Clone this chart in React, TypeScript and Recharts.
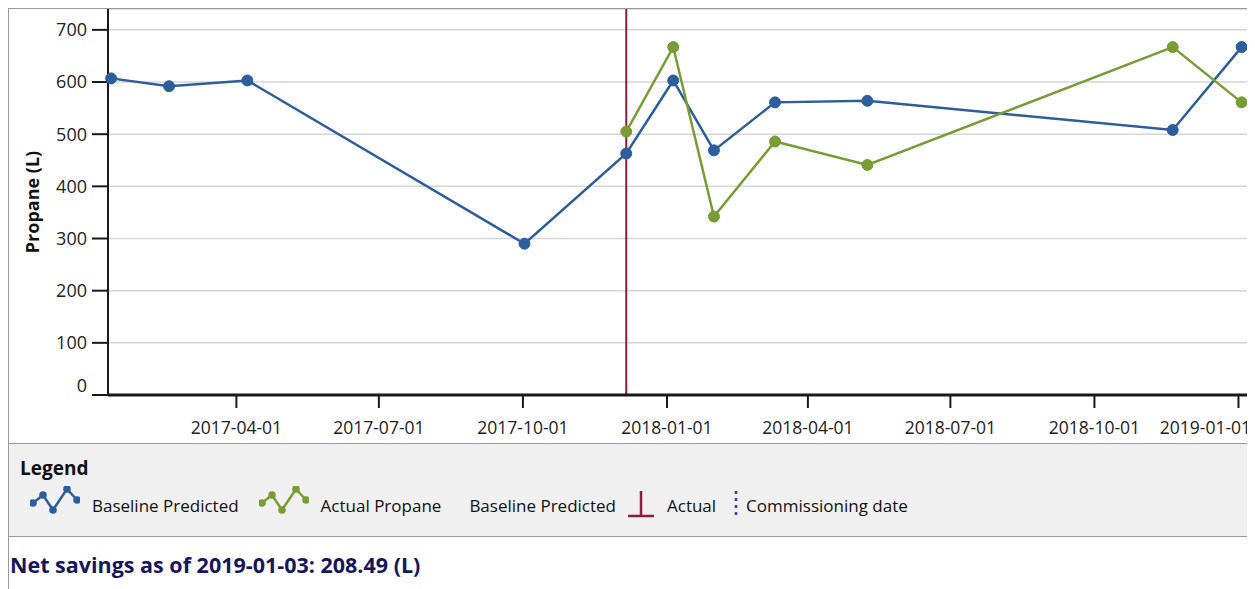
import React from 'react';
import { CartesianGrid, Line, LineChart, ReferenceLine, XAxis, YAxis } from 'recharts';

const d = (s: string) => {
  const [y, m, day] = s.split('-').map(Number);
  return Date.UTC(y, m - 1, day);
};

const dates = [
  '2017-01-11', '2017-02-17', '2017-04-08', '2017-10-02', '2017-12-06', '2018-01-05',
  '2018-01-31', '2018-03-11', '2018-05-09', '2018-11-20', '2019-01-03',
];
const baselinePredicted = [607, 592, 603, 290, 463, 603, 469, 561, 564, 508, 667];
const actualPropane = [null, null, null, null, 505, 667, 342, 486, 441, 667, 561];
const xTicks = [
  '2017-04-01', '2017-07-01', '2017-10-01', '2018-01-01',
  '2018-04-01', '2018-07-01', '2018-10-01', '2019-01-01',
];
const yTicks = [0, 100, 200, 300, 400, 500, 600, 700];
const commissioningDate = '2017-12-06';

const data = dates.map((s, i) => ({
  date: d(s),
  baseline: baselinePredicted[i],
  actual: actualPropane[i],
}));

const fmt = (t: number | Date) => new Date(+t).toISOString().slice(0, 10);

const BLUE = '#2e5d9b';
const GREEN = '#7a9c35';
const RED = '#8c1d40';
const FONT = "'Open Sans', sans-serif";

function YTick(props: any) {
  const { x, y, payload } = props;
  const dy = payload.value === 0 ? -9 : 0;
  return (
    <text x={x} y={y + dy} dy="0.355em" textAnchor="end" fontSize={18} fill="#222" fontFamily={FONT}>
      {payload.value}
    </text>
  );
}

function XTick(props: any) {
  const { x, y, payload } = props;
  const label = fmt(payload.value);
  // last label is pushed left so it stays inside the frame
  const dx = label === xTicks[xTicks.length - 1] ? -33 : 0;
  return (
    <text x={Number(x) + dx} y={y} dy="0.71em" textAnchor="middle" fontSize={17.5} fill="#222" fontFamily={FONT}>
      {label}
    </text>
  );
}

function WaveIcon({ color }: { color: string }) {
  const pts = [[3, 17], [13, 9], [23, 24], [37, 3], [47, 14]];
  return (
    <svg width={50} height={28} style={{ display: 'block', marginTop: -10 }}>
      <polyline points={pts.map((p) => p.join(',')).join(' ')} fill="none" stroke={color} strokeWidth={2.5} />
      {pts.map((p, i) => (
        <circle key={i} cx={p[0]} cy={p[1]} r={3.8} fill={color} />
      ))}
    </svg>
  );
}

export default function App() {
  return (
    <div
      style={{
        width: 1244,
        height: 581,
        borderLeft: '1px solid #9a9a9a',
        borderTop: '1px solid #9a9a9a',
        borderRight: '1px solid #9a9a9a',
        fontFamily: FONT,
        overflow: 'hidden',
        background: '#fff',
      }}
    >
      <LineChart width={1244} height={434} data={data} margin={{ top: 0, right: 2, bottom: 0, left: 0 }}>
        <CartesianGrid vertical={false} stroke="#d6d6d6" strokeWidth={1.5} />
        <XAxis
          dataKey="date"
          type="number"
          scale="time"
          domain={[d('2017-01-09'), d('2019-01-09')]}
          ticks={xTicks.map(d)}
          interval={0}
          height={48}
          tickSize={13}
          tickMargin={14}
          tick={(p: any) => <XTick {...p} />}
          axisLine={{ stroke: '#1a1a1a', strokeWidth: 3 }}
          tickLine={{ stroke: '#1a1a1a', strokeWidth: 2 }}
        />
        <YAxis
          domain={[0, 740]}
          ticks={yTicks}
          interval={0}
          width={99}
          tickSize={16}
          tickMargin={5}
          tick={<YTick />}
          axisLine={{ stroke: '#1a1a1a', strokeWidth: 2 }}
          tickLine={{ stroke: '#1a1a1a', strokeWidth: 2 }}
          label={{
            value: 'Propane (L)',
            angle: -90,
            position: 'insideLeft',
            offset: 24,
            style: { fontSize: 18, fontWeight: 700, fill: '#111', fontFamily: FONT, textAnchor: 'middle' },
          }}
        />
        <ReferenceLine x={d(commissioningDate)} stroke={RED} strokeWidth={2} />
        <Line
          dataKey="baseline"
          stroke={BLUE}
          strokeWidth={2.5}
          dot={{ r: 5.5, fill: BLUE, stroke: BLUE, strokeWidth: 1 }}
          isAnimationActive={false}
        />
        <Line
          dataKey="actual"
          stroke={GREEN}
          strokeWidth={2.5}
          dot={{ r: 5.5, fill: GREEN, stroke: GREEN, strokeWidth: 1 }}
          isAnimationActive={false}
        />
      </LineChart>
      <div
        style={{
          height: 92,
          background: '#f0f0f0',
          borderTop: '1px solid #9a9a9a',
          borderBottom: '1px solid #9a9a9a',
          boxSizing: 'content-box',
          color: '#111',
        }}
      >
        <div style={{ fontWeight: 700, fontSize: 19, paddingLeft: 11, paddingTop: 12, lineHeight: '24px' }}>Legend</div>
        <div style={{ display: 'flex', alignItems: 'center', fontSize: 17, marginTop: 10, paddingLeft: 21, height: 30 }}>
          <WaveIcon color={BLUE} />
          <span style={{ marginLeft: 12 }}>Baseline Predicted</span>
          <span style={{ marginLeft: 20 }}><WaveIcon color={GREEN} /></span>
          <span style={{ marginLeft: 12 }}>Actual Propane</span>
          <span style={{ marginLeft: 28 }}>Baseline Predicted</span>
          <svg width={30} height={32} style={{ marginLeft: 10, display: 'block' }}>
            <line x1={15} y1={2} x2={15} y2={27} stroke={RED} strokeWidth={2.5} />
            <line x1={2} y1={27} x2={28} y2={27} stroke={RED} strokeWidth={2.5} />
          </svg>
          <span style={{ marginLeft: 11 }}>Actual</span>
          <svg width={8} height={32} style={{ marginLeft: 16, display: 'block' }}>
            <line x1={4} y1={2} x2={4} y2={30} stroke="#3a3ac8" strokeWidth={2.5} strokeDasharray="3 4" />
          </svg>
          <span style={{ marginLeft: 6 }}>Commissioning date</span>
        </div>
      </div>
      <div style={{ fontWeight: 700, fontSize: 21.5, color: '#16165e', paddingLeft: 1, paddingTop: 13, lineHeight: '30px' }}>
        Net savings as of 2019-01-03: 208.49 (L)
      </div>
    </div>
  );
}
